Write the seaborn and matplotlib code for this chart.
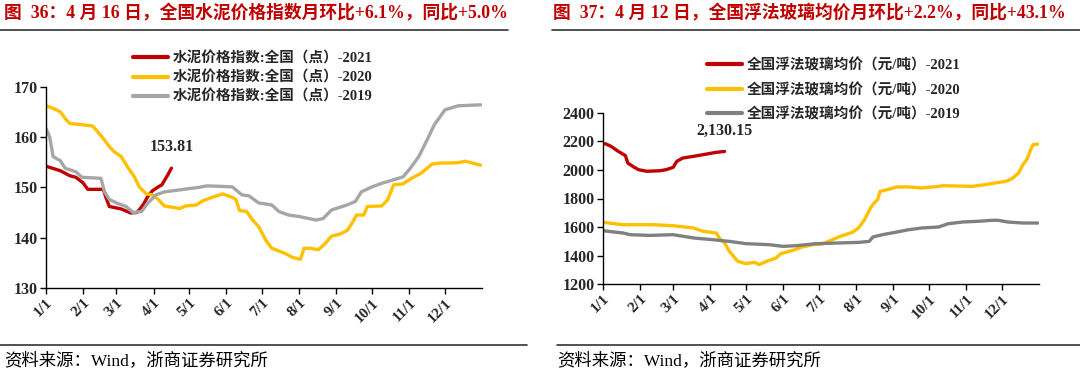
import numpy as np
import pandas as pd
import seaborn as sns
from matplotlib import pyplot as plt

FAM = ['Liberation Serif', 'Noto Sans CJK SC']

month_labels = [f'{m}/1' for m in range(1, 13)]
month_days = [0, 31, 59, 90, 120, 151, 181, 212, 243, 273, 304, 334]

# cement price index, x = day of year
cement_2021_day = [0, 12, 20, 25, 31, 35, 48, 50, 53, 57, 63, 67, 71, 76, 78, 82, 85, 89, 94, 97, 102, 105]
cement_2021_val = [154.2, 153.3, 152.3, 152.0, 150.9, 149.6, 149.6, 148.1, 146.2, 146.0, 145.7, 145.3,
                   144.9, 145.0, 145.5, 146.8, 148.1, 149.3, 150.1, 150.5, 152.5, 153.81]
cement_2020_day = [0, 6, 12, 17, 20, 39, 42, 48, 53, 57, 63, 69, 74, 78, 84, 89, 94, 99, 112, 117, 126,
                   131, 139, 148, 156, 159, 162, 168, 173, 178, 184, 189, 200, 206, 213, 216, 221, 228,
                   234, 239, 246, 252, 256, 260, 266, 269, 281, 286, 291, 299, 306, 314, 323, 328, 345,
                   351, 356, 364]
cement_2020_val = [166.2, 165.7, 165.0, 163.4, 162.7, 162.2, 161.4, 159.7, 158.1, 157.1, 156.1, 153.8,
                   152.1, 150.1, 148.7, 148.5, 147.6, 146.3, 145.8, 146.3, 146.5, 147.3, 148.0, 148.7,
                   148.0, 147.6, 145.4, 145.2, 143.5, 142.2, 139.5, 137.9, 136.9, 136.1, 135.7, 137.9,
                   137.9, 137.6, 138.9, 140.3, 140.7, 141.4, 142.8, 144.5, 144.5, 146.2, 146.3, 147.5,
                   150.5, 150.7, 151.8, 152.8, 154.6, 154.8, 154.9, 155.2, 154.9, 154.4]
cement_2019_day = [0, 3, 6, 12, 16, 25, 30, 46, 49, 53, 60, 67, 73, 80, 85, 92, 99, 112, 128, 135, 156,
                   164, 170, 178, 189, 195, 203, 212, 226, 232, 239, 252, 259, 264, 273, 281, 291, 299,
                   305, 312, 319, 325, 334, 345, 364]
cement_2019_val = [161.7, 160.1, 156.1, 155.3, 153.8, 153.1, 152.0, 151.8, 149.1, 147.6, 146.8, 146.2,
                   145.0, 145.2, 146.8, 148.5, 149.1, 149.5, 150.0, 150.3, 150.1, 148.5, 148.3, 146.9,
                   146.5, 145.2, 144.5, 144.2, 143.5, 143.8, 145.5, 146.5, 147.2, 149.1, 150.1, 150.8,
                   151.5, 152.1, 153.8, 156.1, 159.4, 162.4, 165.4, 166.2, 166.4]

# float glass average price (yuan/t)
glass_2021_day = [2, 7, 13, 19, 21, 26, 30, 37, 48, 53, 59, 62, 67, 76, 87, 95, 102]
glass_2021_val = [2185, 2166, 2131, 2101, 2049, 2021, 2002, 1991, 1995, 2002, 2019, 2061, 2084, 2096,
                  2112, 2124, 2130.15]
glass_2020_day = [0, 17, 42, 59, 76, 84, 95, 98, 102, 106, 113, 120, 127, 131, 137, 145, 149, 159, 167,
                  176, 184, 192, 199, 209, 214, 219, 224, 227, 230, 232, 238, 246, 256, 267, 281, 285,
                  309, 320, 331, 337, 342, 348, 351, 355, 358, 360, 364]
glass_2020_val = [1633, 1616, 1616, 1609, 1593, 1570, 1558, 1516, 1488, 1429, 1359, 1343, 1352, 1336,
                  1359, 1382, 1413, 1436, 1460, 1476, 1481, 1511, 1535, 1563, 1593, 1651, 1733, 1768,
                  1792, 1850, 1862, 1881, 1881, 1874, 1885, 1890, 1885, 1897, 1913, 1920, 1937, 1979,
                  2030, 2077, 2143, 2178, 2182]
glass_2019_day = [0, 17, 23, 39, 59, 76, 92, 106, 120, 139, 151, 162, 178, 198, 214, 223, 226, 234, 245,
                  256, 267, 281, 289, 301, 314, 326, 331, 339, 351, 364]
glass_2019_val = [1574, 1558, 1546, 1541, 1546, 1523, 1511, 1499, 1483, 1476, 1464, 1469, 1483, 1488,
                  1492, 1499, 1530, 1546, 1563, 1581, 1593, 1600, 1623, 1635, 1640, 1647, 1647, 1635,
                  1628, 1628]

cement_names = ['水泥价格指数:全国（点）-2021', '水泥价格指数:全国（点）-2020', '水泥价格指数:全国（点）-2019']
glass_names = ['全国浮法玻璃均价（元/吨）-2021', '全国浮法玻璃均价（元/吨）-2020', '全国浮法玻璃均价（元/吨）-2019']


def long_frame(names, days, vals):
    parts = [pd.DataFrame({'day': d, 'value': v, 'series': n}) for n, d, v in zip(names, days, vals)]
    return pd.concat(parts, ignore_index=True)


cement_df = long_frame(cement_names, [cement_2021_day, cement_2020_day, cement_2019_day],
                       [cement_2021_val, cement_2020_val, cement_2019_val])
glass_df = long_frame(glass_names, [glass_2021_day, glass_2020_day, glass_2019_day],
                      [glass_2021_val, glass_2020_val, glass_2019_val])

sns.set_style('white')
plt.rcParams['font.family'] = FAM

fig = plt.figure(figsize=(10.8, 3.78), dpi=100)
ax1 = fig.add_axes([46 / 1080, 1 - 288 / 378, 436 / 1080, 201.3 / 378])
ax2 = fig.add_axes([602.7 / 1080, 1 - 284 / 378, 436.3 / 1080, 171 / 378])


def draw_panel(ax, df, names, colors, ylim, yticks, last_day, last_val, legend_anchor, spacing):
    pal = dict(zip(names, colors))
    sns.lineplot(data=df, x='day', y='value', hue='series', hue_order=names, palette=pal,
                 estimator=None, sort=False, linewidth=2.4, ax=ax)
    ax.set_xlim(0, 365)
    ax.set_ylim(*ylim)
    ax.set_yticks(yticks)
    ax.set_yticklabels([str(t) for t in yticks], fontsize=11.5, fontweight='bold', family=FAM)
    ax.set_xticks(month_days)
    ax.set_xticklabels(month_labels, rotation=45, ha='right', rotation_mode='anchor',
                       fontsize=11, fontweight='bold', family=FAM)
    ax.set_xlabel('')
    ax.set_ylabel('')
    for s in ['top', 'right']:
        ax.spines[s].set_visible(False)
    for s in ['left', 'bottom']:
        ax.spines[s].set_color('black')
        ax.spines[s].set_linewidth(1.0)
    ax.tick_params(axis='both', direction='out', length=4, width=1, color='black', pad=2, bottom=True, left=True)
    ax.annotate(f'{last_val:,.2f}', xy=(last_day, last_val), xytext=(0, 15), textcoords='offset points',
                ha='center', va='center', fontsize=11.5, fontweight='bold', family=FAM)
    handles, labels = ax.get_legend_handles_labels()
    ax.legend(handles, labels, loc='upper left', bbox_to_anchor=legend_anchor,
              bbox_transform=fig.transFigure, frameon=False, handlelength=2.4, handletextpad=0.3,
              labelspacing=spacing, borderpad=0, prop={'family': FAM, 'weight': 'bold', 'size': 10.5})
    for line in ax.get_legend().get_lines():
        line.set_linewidth(3)


draw_panel(ax1, cement_df, cement_names, ['#C00000', '#FFC000', '#A6A6A6'], (130, 170),
           [130, 140, 150, 160, 170], cement_2021_day[-1], cement_2021_val[-1], (126 / 1080, 1 - 44 / 378), 0.35)
draw_panel(ax2, glass_df, glass_names, ['#C00000', '#FFC000', '#808080'], (1200, 2400),
           list(range(1200, 2401, 200)), glass_2021_day[-1], glass_2021_val[-1], (700 / 1080, 1 - 51 / 378), 0.7)

title_kw = dict(fontsize=12.8, fontweight='bold', color='#C00000', family=FAM, va='center', ha='left')
fig.text(4 / 1080, 1 - 13 / 378, '图  36：4 月 16 日，全国水泥价格指数月环比+6.1%，同比+5.0%', **title_kw)
fig.text(553 / 1080, 1 - 13 / 378, '图  37：4 月 12 日，全国浮法玻璃均价月环比+2.2%，同比+43.1%', **title_kw)

for x0, x1 in [(0, 508), (552, 1080)]:
    fig.add_artist(plt.Line2D([x0 / 1080, x1 / 1080], [1 - 30 / 378] * 2, color='#333333', lw=1.2))
for x0, x1 in [(0, 527), (557, 1080)]:
    fig.add_artist(plt.Line2D([x0 / 1080, x1 / 1080], [1 - 345 / 378] * 2, color='#333333', lw=1.2))

src_kw = dict(fontsize=12.5, color='black', family=FAM, va='center', ha='left')
fig.text(4 / 1080, 1 - 361 / 378, '资料来源：Wind，浙商证券研究所', **src_kw)
fig.text(557 / 1080, 1 - 361 / 378, '资料来源：Wind，浙商证券研究所', **src_kw)

fig.savefig('out.png', dpi=100)
